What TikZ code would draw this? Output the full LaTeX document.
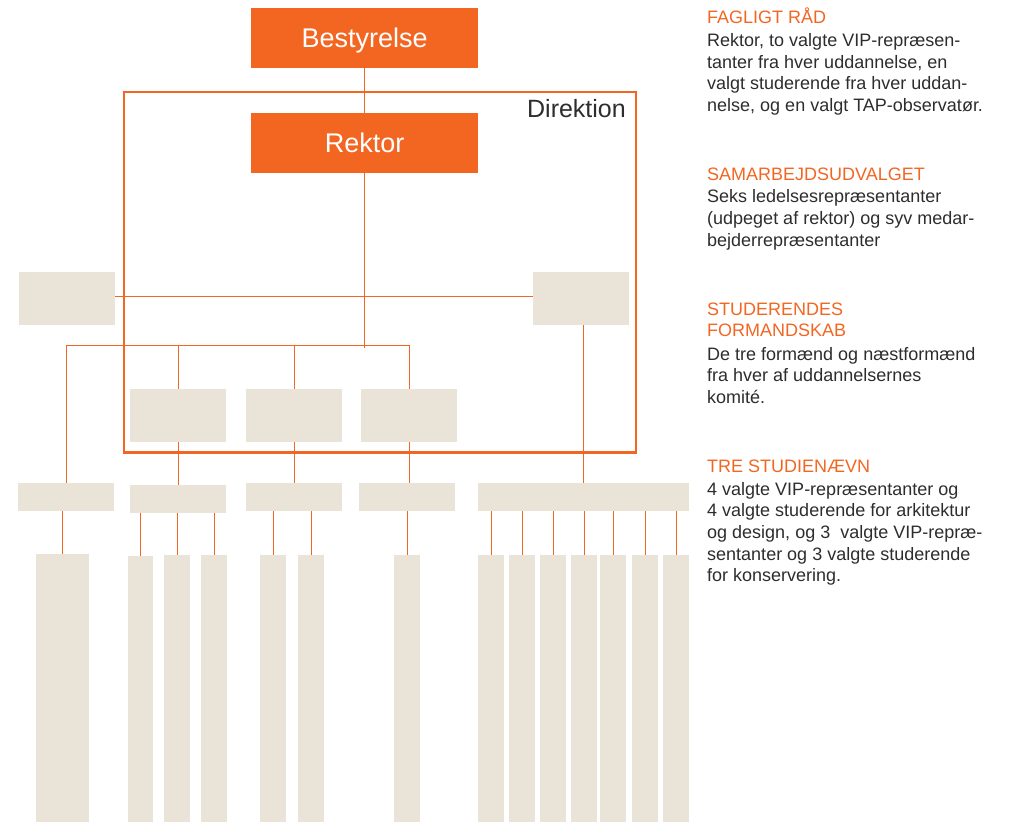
\documentclass[tikz,border=0pt]{standalone}
\usepackage{fontspec}
\setmainfont{Liberation Sans}
\usepackage{tikz}
\definecolor{orgorange}{RGB}{242,102,34}
\definecolor{paper}{RGB}{234,228,216}
\definecolor{darktxt}{RGB}{45,45,45}

\begin{document}
\begin{tikzpicture}[x=1pt,y=-1pt,
  orgbox/.style={fill=orgorange, text=white, inner sep=0pt, anchor=north west,
    minimum width=227pt, minimum height=60pt, text height=19.4pt, text depth=0pt,
    font=\fontsize{27}{27}\selectfont},
  unit/.style={fill=paper, inner sep=0pt, anchor=north west, minimum width=96pt, minimum height=53pt},
  bar/.style={fill=paper, inner sep=0pt, anchor=north west, minimum width=96pt, minimum height=28pt},
  col/.style={fill=paper, inner sep=0pt, anchor=north west, minimum width=26pt, minimum height=268pt},
  link/.style={draw=orgorange, line width=1.3pt},
  head/.style={text=orgorange, inner sep=0pt, anchor=base west, align=left,
    font=\fontsize{18}{21.7}\selectfont},
  body/.style={text=darktxt, inner sep=0pt, anchor=base west, align=left,
    font=\fontsize{18}{21.7}\selectfont}]
\useasboundingbox (0,0) rectangle (1016,822);
% direktion frame
\node[draw=orgorange, line width=2.6pt, inner sep=0pt, anchor=north west,
  minimum width=512pt, minimum height=360.5pt] (dir) at (122.5,90.5) {};
\node[text=darktxt, inner sep=0pt, anchor=base east, font=\fontsize{25}{25}\selectfont]
  (dirlabel) at (626,117) {Direktion};
% top of the tree
\node[orgbox] (best) at (251,8) {Bestyrelse};
\node[orgbox] (rektor) at (251,113) {Rektor};
% first row
\node[unit] (left) at (19,272) {};
\node[unit] (right) at (533,272) {};
% second row, inside direktion
\node[unit] (m1) at (130,389) {};
\node[unit] (m2) at (246,389) {};
\node[unit] (m3) at (361,389) {};
% third row
\node[bar] (bA) at (18,483) {};
\node[bar] (bB) at (130,485) {};
\node[bar] (bC) at (246,483) {};
\node[bar] (bD) at (359,483) {};
\node[bar, minimum width=211pt] (bE) at (478,483) {};
% columns
\node[col, minimum width=53pt] (cA) at (36,554) {};
\node[col, minimum width=25pt, minimum height=266pt] (cB1) at (128,556) {};
\node[col, minimum height=267pt] (cB2) at (164,555) {};
\node[col, minimum height=267pt] (cB3) at (201,555) {};
\node[col, minimum height=267pt] (cC1) at (260,555) {};
\node[col, minimum height=267pt] (cC2) at (298,555) {};
\node[col, minimum height=267pt] (cD) at (394,555) {};
\node[col, minimum height=267pt] (cE1) at (478,555) {};
\node[col, minimum height=267pt] (cE2) at (509,555) {};
\node[col, minimum height=267pt] (cE3) at (540,555) {};
\node[col, minimum height=267pt] (cE4) at (571,555) {};
\node[col, minimum height=267pt] (cE5) at (600,555) {};
\node[col, minimum height=267pt] (cE6) at (632,555) {};
\node[col, minimum height=267pt] (cE7) at (663,555) {};
% connectors
\coordinate (split) at (364.5,345.7);
\draw[link] (best.south) -- (rektor.north);
\draw[link] (rektor.south) -- ([yshift=-2pt]rektor.south |- split);
\draw[link] (left.east |- 0,296.3) -- (right.west |- 0,296.3);
\draw[link] (bA.north) -- (bA.north |- split) -- (split -| m3.north) -- (m3.north);
\draw[link] (m1.north |- split) -- (m1.north);
\draw[link] (m2.north |- split) -- (m2.north);
\draw[link] (m1.south) -- (m1.south |- bB.north);
\draw[link] (m2.south) -- (m2.south |- bC.north);
\draw[link] (m3.south) -- (m3.south |- bD.north);
\draw[link] (bE.north |- right.south) -- (bE.north);
\draw[link] (cA.north) -- (cA.north |- bA.south);
\draw[link] (cB1.north) -- (cB1.north |- bB.south);
\draw[link] (cB2.north) -- (cB2.north |- bB.south);
\draw[link] (cB3.north) -- (cB3.north |- bB.south);
\draw[link] (cC1.north) -- (cC1.north |- bC.south);
\draw[link] (cC2.north) -- (cC2.north |- bC.south);
\draw[link] (cD.north) -- (cD.north |- bD.south);
\draw[link] (cE1.north) -- (cE1.north |- bE.south);
\draw[link] (cE2.north) -- (cE2.north |- bE.south);
\draw[link] (cE3.north) -- (cE3.north |- bE.south);
\draw[link] (cE4.north) -- (cE4.north |- bE.south);
\draw[link] (cE5.north) -- (cE5.north |- bE.south);
\draw[link] (cE6.north) -- (cE6.north |- bE.south);
\draw[link] (cE7.north) -- (cE7.north |- bE.south);
% legend (multi-line nodes sit on their last baseline)
\node[head] (faghead) at (707,23.5) {FAGLIGT RÅD};
\node[body] (fagtext) at (707,111.5) {Rektor, to valgte VIP-repræsen-\\tanter fra hver uddannelse, en\\valgt studerende fra hver uddan-\\nelse, og en valgt TAP-observatør.};
\node[head] (samhead) at (707,180) {SAMARBEJDSUDVALGET};
\node[body] (samtext) at (707,246.1) {Seks ledelsesrepræsentanter\\(udpeget af rektor) og syv medar-\\bejderrepræsentanter};
\node[head] (studhead) at (707,336.7) {STUDERENDES\\FORMANDSKAB};
\node[body] (studtext) at (707,403.4) {De tre formænd og næstformænd\\fra hver af uddannelsernes\\komité.};
\node[head] (nhead) at (707,472.3) {TRE STUDIENÆVN};
\node[body] (ntext) at (707,581.8) {4 valgte VIP-repræsentanter og\\4 valgte studerende for arkitektur\\og design, og 3\ \ valgte VIP-repræ-\\sentanter og 3 valgte studerende\\for konservering.};
\end{tikzpicture}
\end{document}
